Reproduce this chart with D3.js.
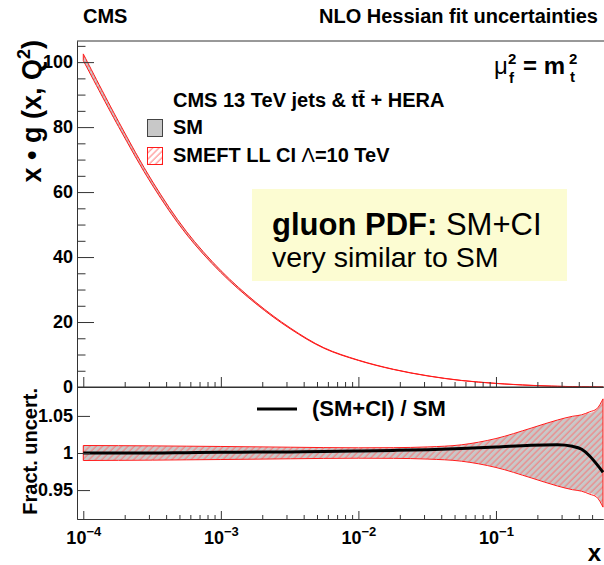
<!DOCTYPE html>
<html>
<head>
<meta charset="utf-8">
<script src="https://cdn.jsdelivr.net/npm/d3@7"></script>
<style>
  body { margin: 0; background: #fff; }
  text { font-family: "Liberation Sans", Arial, Helvetica, sans-serif; fill: #000; }
</style>
</head>
<body>
<svg id="chart" width="604" height="565"></svg>
<script>
// values
const xGrid = [1e-4, 1.8e-4, 3.2e-4, 5.6e-4, 1e-3, 1.8e-3, 3.2e-3, 5.6e-3, 1e-2, 1.8e-2,
               3.2e-2, 5.6e-2, 0.1, 0.18, 0.28, 0.36, 0.42, 0.48, 0.54, 0.6];
const gluonSM = [101.5, 81, 62.5, 47.5, 35.5, 25.8, 18, 12, 8.2, 5.4,
                 3.4, 2.0, 1.1, 0.5, 0.22, 0.12, 0.08, 0.05, 0.03, 0.02];
const ratioCI = [1.000, 1.000, 1.000, 1.0005, 1.001, 1.0012, 1.0015, 1.002, 1.0027, 1.0035,
                 1.0045, 1.006, 1.008, 1.0105, 1.011, 1.009, 1.005, 0.996, 0.985, 0.974];
const uncSM = [0.0095, 0.0093, 0.009, 0.0087, 0.0083, 0.0078, 0.0073, 0.0068, 0.0065, 0.0068,
               0.0078, 0.0105, 0.019, 0.033, 0.044, 0.049, 0.051, 0.054, 0.058, 0.072];
const uncCI = [0.0101, 0.0099, 0.0096, 0.0092, 0.0088, 0.0083, 0.0078, 0.0073, 0.0070, 0.0072,
               0.0082, 0.0110, 0.0195, 0.0335, 0.0445, 0.0495, 0.0515, 0.0555, 0.0595, 0.073];
const yTicksTop = [0, 20, 40, 60, 80, 100];
const yTicksBottom = [0.95, 1, 1.05];
const xTickExps = [-4, -3, -2, -1];

const svg = d3.select('#chart');
const left = 77, right = 603, topY = 41, midY = 387, botY = 519;

const x = d3.scaleLog().domain([9e-5, 0.6]).range([left, right]);
const yTop = d3.scaleLinear().domain([0, 106.5]).range([midY, topY]);
const yBot = d3.scaleLinear().domain([0.911, 1.089]).range([botY, midY]);

const pts = xGrid.map((v, i) => ({
    x: v, g: gluonSM[i], r: ratioCI[i], us: uncSM[i], uc: uncCI[i]
}));

const defs = svg.append('defs');
defs.append('pattern')
    .attr('id', 'hatch')
    .attr('patternUnits', 'userSpaceOnUse')
    .attr('width', 4.5)
    .attr('height', 4.5)
    .attr('patternTransform', 'rotate(45)')
    .append('line')
    .attr('x1', 1).attr('y1', 0).attr('x2', 1).attr('y2', 4.5)
    .attr('stroke', '#ff6a6a')
    .attr('stroke-width', 0.9);

defs.append('clipPath').attr('id', 'clipTop')
    .append('rect').attr('x', left).attr('y', topY).attr('width', right - left + 1).attr('height', midY - topY);
defs.append('clipPath').attr('id', 'clipBot')
    .append('rect').attr('x', left).attr('y', midY).attr('width', right - left + 1).attr('height', botY - midY);

const smooth = d3.curveCatmullRom.alpha(0.5);

// ---------- top panel ----------
const gTop = svg.append('g').attr('clip-path', 'url(#clipTop)');

const areaTopSM = d3.area()
    .x(d => x(d.x))
    .y0(d => yTop(d.g * (1 - d.us)))
    .y1(d => yTop(d.g * (1 + d.us)))
    .curve(smooth);
const areaTopCI = d3.area()
    .x(d => x(d.x))
    .y0(d => yTop(d.g * d.r * (1 - d.uc)))
    .y1(d => yTop(d.g * d.r * (1 + d.uc)))
    .curve(smooth);

gTop.append('path').datum(pts).attr('d', areaTopSM).attr('fill', '#c8c8c8');
gTop.append('path').datum(pts).attr('d', areaTopCI)
    .attr('fill', 'url(#hatch)').attr('stroke', '#ff1a1a').attr('stroke-width', 1);

// ---------- bottom panel ----------
const gBot = svg.append('g').attr('clip-path', 'url(#clipBot)');

const areaBotSM = d3.area()
    .x(d => x(d.x))
    .y0(d => yBot(1 - d.us))
    .y1(d => yBot(1 + d.us))
    .curve(d3.curveMonotoneX);
const areaBotCI = d3.area()
    .x(d => x(d.x))
    .y0(d => yBot(1 - d.uc))
    .y1(d => yBot(1 + d.uc))
    .curve(d3.curveMonotoneX);
const ratioLine = d3.line()
    .x(d => x(d.x))
    .y(d => yBot(d.r))
    .curve(d3.curveMonotoneX);

gBot.append('path').datum(pts).attr('d', areaBotSM).attr('fill', '#c8c8c8');
gBot.append('path').datum(pts).attr('d', areaBotCI)
    .attr('fill', 'url(#hatch)').attr('stroke', '#ff1a1a').attr('stroke-width', 1);
gBot.append('path').datum(pts).attr('d', ratioLine)
    .attr('fill', 'none').attr('stroke', '#000').attr('stroke-width', 3);

// ---------- axes ----------
const axisColor = '#333';

function styleAxis(g) {
    g.selectAll('path.domain').attr('stroke', axisColor);
    g.selectAll('.tick line').attr('stroke', axisColor);
    g.selectAll('.tick text')
        .attr('font-family', '"Liberation Sans", Arial, sans-serif')
        .attr('font-weight', 'bold')
        .attr('font-size', 18)
        .attr('fill', '#000');
}

const minorTop = d3.range(5, 106, 5).filter(v => v % 20 !== 0);
svg.append('g')
    .attr('transform', `translate(${left},0)`)
    .call(d3.axisLeft(yTop).tickValues(minorTop).tickSizeInner(-8.5).tickSizeOuter(0).tickFormat(''))
    .call(styleAxis);
svg.append('g')
    .attr('transform', `translate(${left},0)`)
    .call(d3.axisLeft(yTop).tickValues(yTicksTop).tickSizeInner(-17).tickSizeOuter(0).tickPadding(4))
    .call(styleAxis);

svg.append('g')
    .attr('transform', `translate(${left},0)`)
    .call(d3.axisLeft(yBot).tickValues(yTicksBottom).tickSizeInner(-13).tickSizeOuter(0).tickPadding(4)
        .tickFormat(d => d === 1 ? '1' : d3.format('.2f')(d)))
    .call(styleAxis);

const majorX = xTickExps.map(e => Math.pow(10, e));
const minorX = [];
xTickExps.forEach(e => {
    for (let k = 2; k <= 9; k++) {
        const v = k * Math.pow(10, e);
        if (v <= 0.6) minorX.push(v);
    }
});

// bottom edge of top panel
svg.append('g')
    .attr('transform', `translate(0,${midY})`)
    .call(d3.axisBottom(x).tickValues(minorX).tickSizeInner(-5).tickSizeOuter(0).tickFormat(''))
    .call(styleAxis);
svg.append('g')
    .attr('transform', `translate(0,${midY})`)
    .call(d3.axisBottom(x).tickValues(majorX).tickSizeInner(-10).tickSizeOuter(0).tickFormat(''))
    .call(styleAxis);

// bottom edge of ratio panel
svg.append('g')
    .attr('transform', `translate(0,${botY})`)
    .call(d3.axisBottom(x).tickValues(minorX).tickSizeInner(-4).tickSizeOuter(0).tickFormat(''))
    .call(styleAxis);
const xAxisBot = svg.append('g')
    .attr('transform', `translate(0,${botY})`)
    .call(d3.axisBottom(x).tickValues(majorX).tickSizeInner(-8).tickSizeOuter(0).tickFormat(''))
    .call(styleAxis);

xAxisBot.selectAll('.tick').append('text')
    .attr('y', 25)
    .attr('text-anchor', 'middle')
    .attr('font-weight', 'bold')
    .attr('font-size', 18)
    .each(function(d) {
        const t = d3.select(this);
        t.append('tspan').text('10');
        t.append('tspan').attr('dy', -8).attr('font-size', 13).text('\u2212' + Math.abs(Math.round(Math.log10(d))));
    });

// frame lines
svg.append('line').attr('x1', left).attr('x2', right + 1).attr('y1', topY).attr('y2', topY)
    .attr('stroke', axisColor);
svg.append('line').attr('x1', left).attr('x2', right + 1).attr('y1', midY).attr('y2', midY)
    .attr('stroke', axisColor);

// axis titles
svg.append('text')
    .attr('transform', `translate(41,${topY - 1}) rotate(-90)`)
    .attr('text-anchor', 'end')
    .attr('font-weight', 'bold')
    .attr('font-size', 27)
    .call(t => {
        t.append('tspan').text('x \u2022 g (x, Q');
        t.append('tspan').attr('dy', -11).attr('font-size', 18).text('2');
        t.append('tspan').attr('dy', 11).text(')');
    });

svg.append('text')
    .attr('transform', `translate(37,${midY + 1}) rotate(-90)`)
    .attr('text-anchor', 'end')
    .attr('font-weight', 'bold')
    .attr('font-size', 20)
    .text('Fract. uncert.');

svg.append('text')
    .attr('x', 601).attr('y', 561)
    .attr('text-anchor', 'end')
    .attr('font-weight', 'bold')
    .attr('font-size', 24)
    .text('x');

// header
svg.append('text').attr('x', 83).attr('y', 23)
    .attr('font-weight', 'bold').attr('font-size', 20).text('CMS');
svg.append('text').attr('x', 598).attr('y', 23)
    .attr('text-anchor', 'end')
    .attr('font-weight', 'bold').attr('font-size', 20).text('NLO Hessian fit uncertainties');

// scale label mu_f^2 = m_t^2
svg.append('text').attr('x', 494).attr('y', 74).attr('font-size', 24).text('\u03bc');
svg.append('text').attr('x', 508).attr('y', 64).attr('font-size', 15).attr('font-weight', 'bold').text('2');
svg.append('text').attr('x', 509).attr('y', 83).attr('font-size', 15).attr('font-weight', 'bold').text('f');
svg.append('text').attr('x', 523).attr('y', 74).attr('font-size', 24).attr('font-weight', 'bold').text('= m');
svg.append('text').attr('x', 569).attr('y', 64).attr('font-size', 15).attr('font-weight', 'bold').text('2');
svg.append('text').attr('x', 570).attr('y', 82).attr('font-size', 15).attr('font-weight', 'bold').text('t');

// legend
svg.append('text').attr('x', 173).attr('y', 107)
    .attr('font-weight', 'bold').attr('font-size', 20)
    .text('CMS 13 TeV jets & t\u0074\u0304 + HERA');

svg.append('rect').attr('x', 147.5).attr('y', 119.5).attr('width', 15).attr('height', 17)
    .attr('fill', '#c8c8c8').attr('stroke', '#444').attr('stroke-width', 1);
svg.append('text').attr('x', 173).attr('y', 134)
    .attr('font-weight', 'bold').attr('font-size', 20).text('SM');

svg.append('rect').attr('x', 147.5).attr('y', 147.5).attr('width', 15).attr('height', 17)
    .attr('fill', '#fff').attr('stroke', 'none');
svg.append('rect').attr('x', 147.5).attr('y', 147.5).attr('width', 15).attr('height', 17)
    .attr('fill', 'url(#hatch)').attr('stroke', '#ff1a1a').attr('stroke-width', 1);
svg.append('text').attr('x', 173).attr('y', 162)
    .attr('font-weight', 'bold').attr('font-size', 20)
    .call(t => {
        t.append('tspan').text('SMEFT LL CI ');
        t.append('tspan').attr('font-weight', 'normal').text('\u039b');
        t.append('tspan').text('=10 TeV');
    });

// annotation box
svg.append('rect').attr('x', 252).attr('y', 189).attr('width', 315).attr('height', 92)
    .attr('fill', '#fcfcd2');
svg.append('text').attr('x', 272).attr('y', 235)
    .call(t => {
        t.append('tspan').attr('font-weight', 'bold').attr('font-size', 31).text('gluon PDF: ');
        t.append('tspan').attr('font-size', 31).text('SM+CI');
    });
svg.append('text').attr('x', 272).attr('y', 267).attr('font-size', 28.5).text('very similar to SM');

// ratio legend
svg.append('line').attr('x1', 257).attr('x2', 297).attr('y1', 409).attr('y2', 409)
    .attr('stroke', '#000').attr('stroke-width', 3);
svg.append('text').attr('x', 312).attr('y', 416)
    .attr('font-weight', 'bold').attr('font-size', 22).text('(SM+CI) / SM');
</script>
</body>
</html>
